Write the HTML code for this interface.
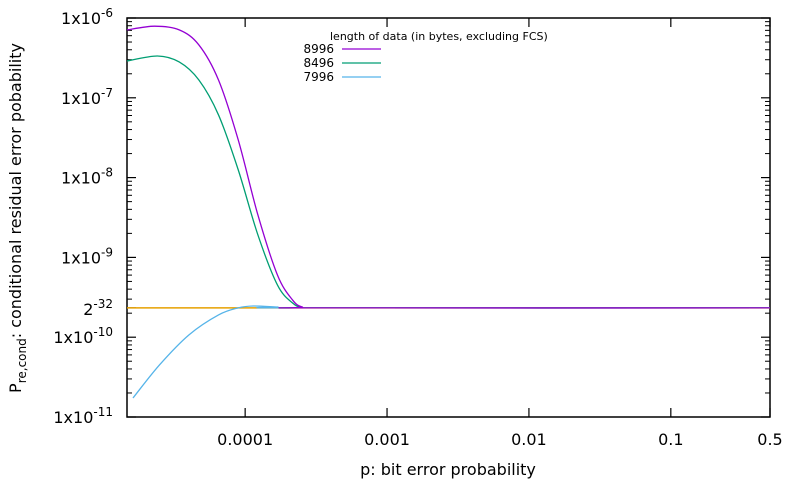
<!DOCTYPE html>
<html><head><meta charset="utf-8"><style>
body{margin:0;background:#fff}
svg{display:block;font-family:"DejaVu Sans","Liberation Sans",sans-serif}
</style></head><body>
<svg id="c" width="792" height="483" viewBox="0 0 792 483"></svg>
<script>
const pVals8996=[1.47e-5,2.30e-5,3.43e-5,4.72e-5,6.49e-5,8.94e-5,1.23e-4,1.69e-4,2.16e-4,2.53e-4,3.2e-4,0.5];
const vals8996=[7.1e-7,7.9e-7,7.1e-7,4.6e-7,1.67e-7,2.96e-8,3.4e-9,6.0e-10,2.92e-10,2.39e-10,2.33e-10,2.33e-10];
const pVals8496=[1.47e-5,2.41e-5,3.43e-5,4.72e-5,6.49e-5,8.94e-5,1.23e-4,1.69e-4,2.16e-4,2.53e-4,3.2e-4,0.5];
const vals8496=[2.89e-7,3.34e-7,2.81e-7,1.67e-7,6.1e-8,1.25e-8,1.91e-9,4.5e-10,2.68e-10,2.36e-10,2.33e-10,2.33e-10];
const pVals7996=[1.62e-5,2.49e-5,4.02e-5,6.49e-5,8.94e-5,1.14e-4,1.69e-4,2.33e-4,0.5];
const vals7996=[1.73e-11,4.49e-11,1.07e-10,1.90e-10,2.33e-10,2.46e-10,2.39e-10,2.33e-10,2.33e-10];
const refLevel=Math.pow(2,-32);
const xTicks=[0.0001,0.001,0.01,0.1,0.5];
const xTickLabels=["0.0001","0.001","0.01","0.1","0.5"];
const yTicks=[-11,-10,-9,-8,-7,-6];

const L=127,R=770,T=18,B=417;
const xMin=Math.log10(1.47e-5),xMax=Math.log10(0.5);
const yMin=-11,yMax=-6;
const X=p=>L+(Math.log10(p)-xMin)/(xMax-xMin)*(R-L);
const Y=v=>B-(Math.log10(v)-yMin)/(yMax-yMin)*(B-T);
const svg=document.getElementById('c');
const NS='http://www.w3.org/2000/svg';
function mk(t,a,txt){const e=document.createElementNS(NS,t);for(const k in a)e.setAttribute(k,a[k]);if(txt!==undefined)e.textContent=txt;svg.appendChild(e);return e;}

let e=mk('rect',{x:L,y:T,width:R-L,height:B-T,fill:'none',stroke:'#000','stroke-width':1.5});



for(const d of yTicks){
  const y=Y(Math.pow(10,d));
  e=mk('line',{x1:L,x2:L+9,y1:y,y2:y,stroke:'#000','stroke-width':1.2});
  
  
  mk('line',{x1:R,x2:R-9,y1:y,y2:y,stroke:'#000','stroke-width':1.2});
  const t=mk('text',{x:113,y:y+6,'text-anchor':'end','font-size':16,fill:'#000'});
  
  
  const a=document.createElementNS(NS,'tspan');a.textContent='1x10';t.appendChild(a);
  const b=document.createElementNS(NS,'tspan');b.setAttribute('dy','-7');b.setAttribute('font-size','12');b.textContent=String(d);t.appendChild(b);
  if(d<yMax){for(let m=2;m<10;m++){const ym=Y(m*Math.pow(10,d));
    mk('line',{x1:L,x2:L+5,y1:ym,y2:ym,stroke:'#000','stroke-width':1});
    mk('line',{x1:R,x2:R-5,y1:ym,y2:ym,stroke:'#000','stroke-width':1});}}
}
e=mk('text',{x:113,y:Y(refLevel)+7,'text-anchor':'end','font-size':16});


{const a=document.createElementNS(NS,'tspan');a.textContent='2';e.appendChild(a);
const b=document.createElementNS(NS,'tspan');b.setAttribute('dy','-7');b.setAttribute('font-size','12');b.textContent='-32';e.appendChild(b);}
mk('line',{x1:L,x2:L+9,y1:Y(refLevel),y2:Y(refLevel),stroke:'#000','stroke-width':1.2});

xTicks.forEach((p,i)=>{
  const x=X(p);
  e=mk('line',{x1:x,x2:x,y1:B,y2:B-9,stroke:'#000','stroke-width':1.2});
  
  
  mk('line',{x1:x,x2:x,y1:T,y2:T+9,stroke:'#000','stroke-width':1.2});
  e=mk('text',{x:x,y:445,'text-anchor':'middle','font-size':16},xTickLabels[i]);
  
  
});

e=mk('text',{x:448,y:475,'text-anchor':'middle','font-size':16},'p: bit error probability');


e=mk('text',{x:0,y:0,'text-anchor':'middle','font-size':16,transform:'translate(21,218) rotate(-90)'});


{const a=document.createElementNS(NS,'tspan');a.textContent='P';e.appendChild(a);
const b=document.createElementNS(NS,'tspan');b.setAttribute('dy','5');b.setAttribute('font-size','12');b.textContent='re,cond';e.appendChild(b);
const c=document.createElementNS(NS,'tspan');c.setAttribute('dy','-5');c.textContent=': conditional residual error pobability';e.appendChild(c);}

function pathFor(ps,vs){
  const pts=ps.map((p,i)=>[X(p),Y(vs[i])]);
  let d='M'+pts[0][0]+','+pts[0][1];
  for(let i=0;i<pts.length-1;i++){
    const p0=pts[Math.max(0,i-1)],p1=pts[i],p2=pts[i+1],p3=pts[Math.min(pts.length-1,i+2)];
    const c1=[p1[0]+(p2[0]-p0[0])/6,p1[1]+(p2[1]-p0[1])/6];
    const c2=[p2[0]-(p3[0]-p1[0])/6,p2[1]-(p3[1]-p1[1])/6];
    d+=' C'+c1+' '+c2+' '+p2;
  }
  return d;
}
e=mk('line',{x1:L,x2:R,y1:Y(refLevel),y2:Y(refLevel),stroke:'#e6a000','stroke-width':1.5});


const series=[[pVals7996,vals7996,'#56b4e9','series-7996'],[pVals8496,vals8496,'#009e73','series-8496'],[pVals8996,vals8996,'#9400d3','series-8996']];
for(const s of series){
  e=mk('path',{d:pathFor(s[0],s[1]),fill:'none',stroke:s[2],'stroke-width':1.3});
  
  
}
e=mk('text',{x:330,y:40,'font-size':11},'length of data (in bytes, excluding FCS)');


[['8996','#9400d3',53],['8496','#009e73',67],['7996','#56b4e9',81]].forEach(l=>{
  e=mk('text',{x:334,y:l[2],'font-size':12,'text-anchor':'end'},l[0]);
  
  
  mk('line',{x1:342,x2:381,y1:l[2]-4,y2:l[2]-4,stroke:l[1],'stroke-width':1.3});
});
</script>
</body></html>
